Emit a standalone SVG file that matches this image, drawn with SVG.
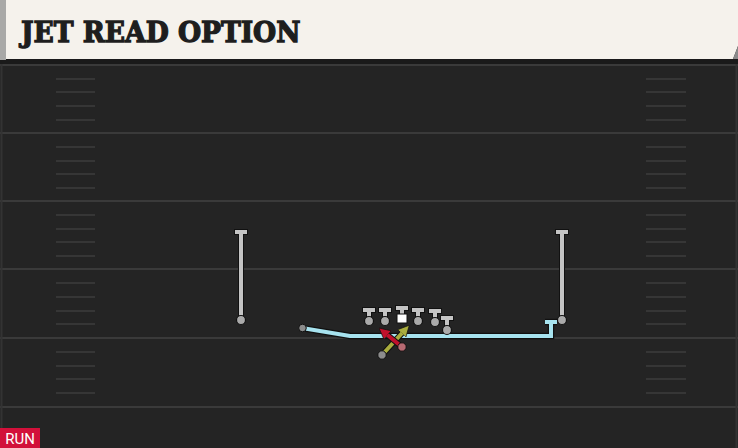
<svg xmlns="http://www.w3.org/2000/svg" width="738" height="448" viewBox="0 0 738 448">
<defs>
<style>
.yard{stroke:#3a3a3a;stroke-width:2}
.hash{stroke:#363636;stroke-width:2}
.ol{fill:none;stroke:#111;stroke-width:6}
.st{fill:none;stroke:#c4c4c4;stroke-width:4}
.dot{fill:#aaa;stroke:#111;stroke-width:1.2}
.title{font-family:"DejaVu Serif",serif;font-weight:bold;font-size:27.5px;fill:#1e1e1e;stroke:#1e1e1e;stroke-width:1.3;stroke-linejoin:miter}
</style>
<marker id="ahRed" viewBox="0 0 10 10" refX="3" refY="5" markerWidth="2.8" markerHeight="2.8" orient="auto" markerUnits="strokeWidth">
<path d="M0,0 L10,5 L0,10 Z" fill="#c0102c" stroke="#111" stroke-width="0.6"/>
</marker>
<marker id="ahYel" viewBox="0 0 10 10" refX="3" refY="5" markerWidth="2.8" markerHeight="2.8" orient="auto" markerUnits="strokeWidth">
<path d="M0,0 L10,5 L0,10 Z" fill="#a9ad3e" stroke="#111" stroke-width="0.6"/>
</marker>
</defs>
<rect x="0" y="0" width="738" height="448" fill="#242424"/>
<g id="field">
<line class="yard" x1="0" y1="65" x2="738" y2="65"/>
<line class="yard" x1="0" y1="133" x2="738" y2="133"/>
<line class="yard" x1="0" y1="201" x2="738" y2="201"/>
<line class="yard" x1="0" y1="269" x2="738" y2="269"/>
<line class="yard" x1="0" y1="338" x2="738" y2="338"/>
<line class="yard" x1="0" y1="407" x2="738" y2="407"/>
<line x1="1.5" y1="60" x2="1.5" y2="448" stroke="#333" stroke-width="2"/>
<line x1="736.5" y1="60" x2="736.5" y2="448" stroke="#333" stroke-width="2"/>
<g class="hash">
<line x1="56" y1="79" x2="95" y2="79"/><line x1="56" y1="92" x2="95" y2="92"/><line x1="56" y1="106" x2="95" y2="106"/><line x1="56" y1="120" x2="95" y2="120"/>
<line x1="56" y1="147" x2="95" y2="147"/><line x1="56" y1="161" x2="95" y2="161"/><line x1="56" y1="174" x2="95" y2="174"/><line x1="56" y1="188" x2="95" y2="188"/>
<line x1="56" y1="215" x2="95" y2="215"/><line x1="56" y1="229" x2="95" y2="229"/><line x1="56" y1="242" x2="95" y2="242"/><line x1="56" y1="256" x2="95" y2="256"/>
<line x1="56" y1="283" x2="95" y2="283"/><line x1="56" y1="297" x2="95" y2="297"/><line x1="56" y1="311" x2="95" y2="311"/><line x1="56" y1="324" x2="95" y2="324"/>
<line x1="56" y1="352" x2="95" y2="352"/><line x1="56" y1="366" x2="95" y2="366"/><line x1="56" y1="379" x2="95" y2="379"/><line x1="56" y1="393" x2="95" y2="393"/>
<line x1="646" y1="79" x2="686" y2="79"/><line x1="646" y1="92" x2="686" y2="92"/><line x1="646" y1="106" x2="686" y2="106"/><line x1="646" y1="120" x2="686" y2="120"/>
<line x1="646" y1="147" x2="686" y2="147"/><line x1="646" y1="161" x2="686" y2="161"/><line x1="646" y1="174" x2="686" y2="174"/><line x1="646" y1="188" x2="686" y2="188"/>
<line x1="646" y1="215" x2="686" y2="215"/><line x1="646" y1="229" x2="686" y2="229"/><line x1="646" y1="242" x2="686" y2="242"/><line x1="646" y1="256" x2="686" y2="256"/>
<line x1="646" y1="283" x2="686" y2="283"/><line x1="646" y1="297" x2="686" y2="297"/><line x1="646" y1="311" x2="686" y2="311"/><line x1="646" y1="324" x2="686" y2="324"/>
<line x1="646" y1="352" x2="686" y2="352"/><line x1="646" y1="366" x2="686" y2="366"/><line x1="646" y1="379" x2="686" y2="379"/><line x1="646" y1="393" x2="686" y2="393"/>
</g>
</g>
<g id="header">
<rect x="0" y="59" width="738" height="5" fill="#1a1a1a"/>
<rect x="0" y="0" width="6" height="60" fill="#a9a9a7"/>
<polygon points="6,0 738,0 738,46 733,59 6,59" fill="#f5f2ec"/>
<polygon points="733,59 738,46 738,59" fill="#8a8a8a"/>
<text class="title" x="21" y="41.5" textLength="279.5" lengthAdjust="spacingAndGlyphs">JET READ OPTION</text>
</g>
<g id="connectors">
<path d="M302,328 L350,336 L551,336 L551,322 M545,322 L557,322" fill="none" stroke="#111" stroke-width="6.5"/>
<path d="M302,328 L350,336 L551,336 L551,322 M545,322 L557,322" fill="none" stroke="#a7e3ef" stroke-width="4"/>
<line x1="382" y1="355" x2="404" y2="331" stroke="#111" stroke-width="6"/>
<line x1="382" y1="355" x2="404" y2="331" stroke="#a9ad3e" stroke-width="4" marker-end="url(#ahYel)"/>
<line x1="402" y1="347" x2="385" y2="333" stroke="#111" stroke-width="6"/>
<line x1="402" y1="347" x2="385" y2="333" stroke="#c0102c" stroke-width="4" marker-end="url(#ahRed)"/>
</g>
<g id="wr-left">
<path class="ol" d="M241,232 L241,320 M234,232 L248,232"/>
<path class="st" d="M241,232 L241,320 M235,232 L247,232"/>
<circle class="dot" cx="241" cy="320" r="4.5"/>
</g>
<g id="wr-right">
<path class="ol" d="M562,232 L562,320 M555,232 L569,232"/>
<path class="st" d="M562,232 L562,320 M556,232 L568,232"/>
<circle class="dot" cx="562" cy="320" r="4.5"/>
</g>
<g id="lt">
<path class="ol" d="M369,310 L369,320 M362,310 L376,310"/>
<path class="st" d="M369,310 L369,320 M363,310 L375,310"/>
<circle class="dot" cx="369" cy="321" r="4.5"/>
</g>
<g id="lg">
<path class="ol" d="M385,310 L385,320 M378,310 L392,310"/>
<path class="st" d="M385,310 L385,320 M379,310 L391,310"/>
<circle class="dot" cx="385" cy="321" r="4.5"/>
</g>
<g id="c">
<path class="ol" d="M402,308 L402,315 M395,308 L409,308"/>
<path class="st" d="M402,308 L402,315 M396,308 L408,308"/>
<rect x="397" y="314" width="10" height="9" fill="#fff" stroke="#111" stroke-width="1"/>
</g>
<g id="rg">
<path class="ol" d="M418,310 L418,320 M411,310 L425,310"/>
<path class="st" d="M418,310 L418,320 M412,310 L424,310"/>
<circle class="dot" cx="418" cy="321" r="4.5"/>
</g>
<g id="rt">
<path class="ol" d="M435,311 L435,321 M428,311 L442,311"/>
<path class="st" d="M435,311 L435,321 M429,311 L441,311"/>
<circle class="dot" cx="435" cy="322" r="4.5"/>
</g>
<g id="te">
<path class="ol" d="M447,318 L447,329 M440,318 L454,318"/>
<path class="st" d="M447,318 L447,329 M441,318 L453,318"/>
<circle class="dot" cx="447" cy="330" r="4.5"/>
</g>
<g id="jet">
<circle cx="302.5" cy="328" r="3.8" fill="#8c8c8c" stroke="#111" stroke-width="1"/>
</g>
<g id="qb">
<circle cx="402" cy="347" r="4.2" fill="#b86a72" stroke="#111" stroke-width="1"/>
</g>
<g id="rb">
<circle cx="382" cy="355" r="4.2" fill="#8c8c8c" stroke="#111" stroke-width="1"/>
</g>
<g id="tag">
<rect x="0" y="428" width="40" height="20" fill="#d2103a"/>
<text x="20" y="444" text-anchor="middle" font-family="Roboto, 'Liberation Sans', sans-serif" font-size="15" fill="#fff">RUN</text>
</g>
</svg>
